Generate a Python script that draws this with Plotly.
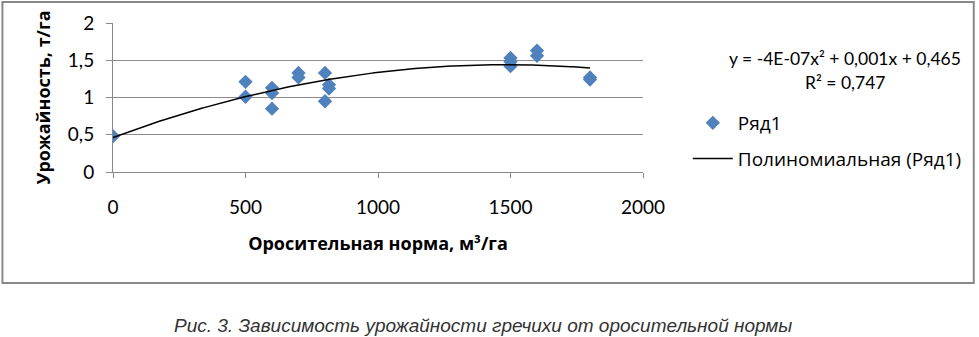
import numpy as np
import plotly.graph_objects as go

# Data
irrigation = [0, 500, 500, 600, 600, 600, 700, 700, 800, 800, 815, 815,
              1500, 1500, 1500, 1600, 1600, 1800, 1800]
yield_t = [0.48, 1.21, 1.01, 1.13, 1.06, 0.85, 1.33, 1.27, 1.33, 0.95, 1.17, 1.12,
           1.53, 1.48, 1.42, 1.63, 1.56, 1.27, 1.24]
x_ticks = [0, 500, 1000, 1500, 2000]
y_ticks = [0, 0.5, 1, 1.5, 2]
series_name = "Ряд1"
trend_name = "Полиномиальная (Ряд1)"
equation_lines = ["y = -4E-07x² + 0,001x + 0,465", "R² = 0,747"]
x_title = "Оросительная норма, м³/га"
y_title = "Урожайность, т/га"
caption = "Рис. 3. Зависимость урожайности гречихи от оросительной нормы"

coef = np.polyfit(irrigation, yield_t, 2)
xs = np.linspace(min(irrigation), max(irrigation), 200)
ys = np.polyval(coef, xs)

FONT = "Lato, 'Noto Sans', sans-serif"
CYR = "'Open Sans', 'Noto Sans', sans-serif"
fig = go.Figure()
fig.add_trace(go.Scatter(x=irrigation, y=yield_t, mode="markers", name=series_name,
                         marker=dict(symbol="diamond", size=11, color="#4F81BD",
                                     line=dict(width=0)),
                         legendgroup="a"))
fig.add_trace(go.Scatter(x=xs, y=ys, mode="lines", name=trend_name,
                         line=dict(color="black", width=1.5), legendgroup="b"))

L, R, T, B = 113, 645, 23, 172
W, H = 979, 337
pw, ph = R - L, B - T
def px(x): return (x - L) / pw
def py(y): return (B - y) / ph

fig.update_layout(
    width=W, height=H,
    margin=dict(l=L, r=W - R, t=T, b=H - B, pad=0),
    paper_bgcolor="white", plot_bgcolor="white",
    separators=", ",
    font=dict(family=FONT, size=19, color="black"),
    showlegend=True,
    legend=dict(x=px(690), y=py(104), xanchor="left", yanchor="top",
                font=dict(family=CYR, size=19), tracegroupgap=8,
                bgcolor="rgba(0,0,0,0)", itemwidth=40),
    xaxis=dict(range=[0, 2000], tickvals=x_ticks, showgrid=False,
               showline=True, linecolor="#888888", linewidth=1,
               ticks="outside", ticklen=5, tickcolor="#888888",
               ticklabelstandoff=13, zeroline=False,
               title=dict(text="<b>" + x_title + "</b>", standoff=20,
                          font=dict(family=CYR, size=18))),
    yaxis=dict(range=[0, 2], tickvals=y_ticks, showgrid=True, gridcolor="#8c8c8c",
               gridwidth=1, showline=True, linecolor="#888888", linewidth=1,
               ticks="outside", ticklen=6, tickcolor="#888888",
               ticklabelstandoff=8, zeroline=False,
               title=dict(text="<b>" + y_title + "</b>", standoff=12,
                          font=dict(family=CYR, size=18))),
    shapes=[dict(type="rect", xref="paper", yref="paper",
                 x0=px(2), x1=px(977), y0=py(283), y1=py(2),
                 line=dict(color="#888888", width=2), layer="below")],
    annotations=[
        dict(text=equation_lines[0], xref="paper", yref="paper", x=px(848), y=py(58),
             xanchor="center", yanchor="middle", showarrow=False,
             font=dict(family=FONT, size=17.5)),
        dict(text=equation_lines[1], xref="paper", yref="paper", x=px(848), y=py(82),
             xanchor="center", yanchor="middle", showarrow=False,
             font=dict(family=FONT, size=17.5)),
        dict(text="<i>" + caption + "</i>", xref="paper", yref="paper",
             x=px(484), y=py(325), xanchor="center", yanchor="middle", showarrow=False,
             font=dict(family="'Liberation Sans Narrow', 'Liberation Sans', sans-serif",
                       size=19, color="#333333")),
    ],
)
fig.write_html("out.html", post_script="document.body.style.margin='0';",
               config={"displayModeBar": False})
